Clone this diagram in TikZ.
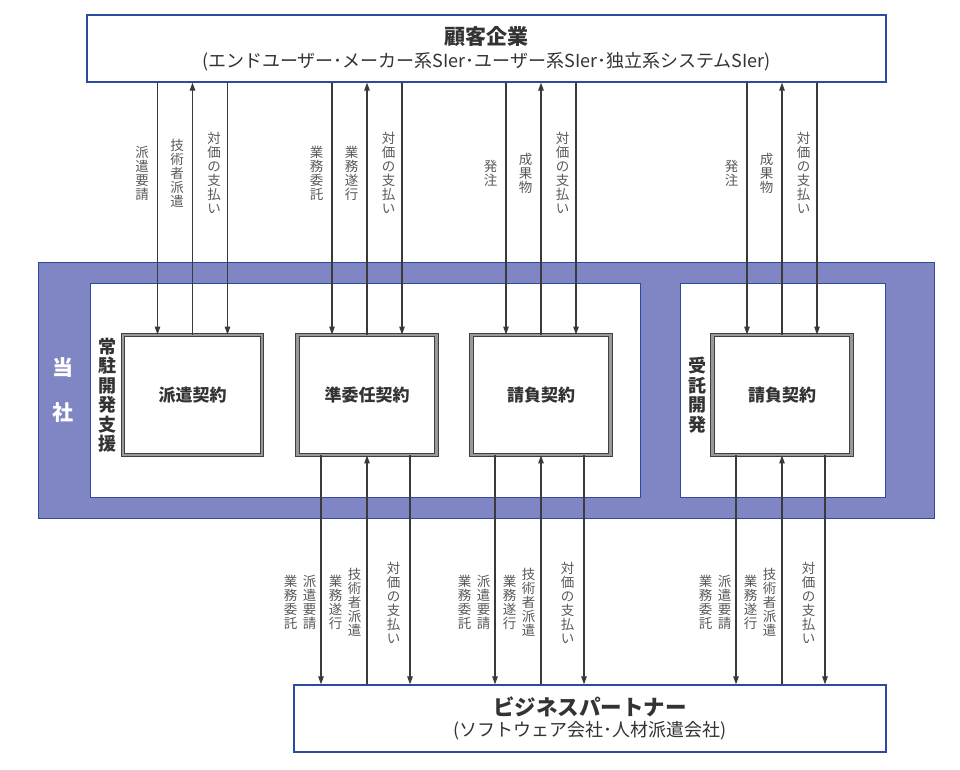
\documentclass[tikz,border=0pt]{standalone}
\usepackage{fontspec}
\setmainfont{Noto Sans CJK JP}
\usetikzlibrary{arrows.meta,positioning}
\definecolor{frameblue}{HTML}{2B4C9E}
\definecolor{framefill}{HTML}{7F86C3}
\definecolor{arrowgray}{HTML}{3A3A3A}
\definecolor{labelgray}{HTML}{5A5A5A}
\definecolor{textgray}{HTML}{333333}

\begin{document}
\begin{tikzpicture}[x=1pt, y=-1pt,
  party/.style={draw=frameblue, line width=1.3pt, fill=white, align=center, inner sep=0pt, text=textgray},
  panel/.style={draw=frameblue, line width=0.6pt, fill=white, inner sep=0pt, minimum height=214pt},
  contract/.style={draw=black!75, line width=0.9pt, double=black!40, double distance=2.4pt, fill=white, minimum width=139pt, minimum height=120pt, inner sep=0pt, text=textgray, font=\fontsize{17}{20}\selectfont\bfseries},
  arr/.style={-{Triangle[length=8pt,width=5.5pt]}, line width=1.1pt, arrowgray},
  lab/.style={align=center, inner sep=0pt, text=labelgray, font=\fontsize{13.5}{14}\selectfont},
  side/.style={align=center, inner sep=0pt, text=textgray, font=\fontsize{18}{19.5}\selectfont\bfseries}
]
\useasboundingbox (0,0) rectangle (960,769);

% Our company
\node[draw=frameblue, line width=1pt, fill=framefill, minimum width=896pt, minimum height=256pt, inner sep=0pt] (frame) at (486,390) {};
\node[align=center, inner sep=0pt, text=white, font=\fontsize{21}{24}\selectfont\bfseries] (tousha) at ([xshift=25pt]frame.west) {当\\[21pt]社};
\node[panel, minimum width=550pt] (resident) at (365,390) {};
\node[panel, minimum width=205pt] (entrusted) at (782.5,390) {};

% Contracts
\node[contract] (c1) at (192.5,395) {派遣契約};
\node[contract] (c2) at (367,395) {準委任契約};
\node[contract] (c3) at (541,395) {請負契約};
\node[contract] (c4) at (782,395) {請負契約};
\node[side, left=6pt of c1] (residentLabel) {常\\駐\\開\\発\\支\\援};
\node[side, left=5pt of c4] (entrustedLabel) {受\\託\\開\\発};

% Customer
\node[party, minimum width=799pt, minimum height=67pt] (customer) at (486.5,48.5) {{\fontsize{21}{25}\selectfont\bfseries 顧客企業}\\[5pt]{\fontsize{18}{20}\selectfont (エンドユーザー･メーカー系SIer･ユーザー系SIer･独立系システムSIer)}};

% Partner
\node[party, minimum width=592pt, minimum height=67pt] (partner) at (590,718.5) {{\fontsize{21.5}{25}\selectfont\bfseries ビジネスパートナー}\\[4pt]{\fontsize{18}{20}\selectfont (ソフトウェア会社･人材派遣会社)}};

% Customer <-> contracts
\draw[arr] ([xshift=-35pt]c1.north |- customer.south) -- node[lab, left=8pt, pos=.36] {派\\遣\\要\\請} ([xshift=-35pt]c1.north);
\draw[arr] (c1.north) -- node[lab, left=8pt, pos=.64] {技\\術\\者\\派\\遣} (c1.north |- customer.south);
\draw[arr] ([xshift=35pt]c1.north |- customer.south) -- node[lab, left=6pt, pos=.36] {対\\価\\の\\支\\払\\い} ([xshift=35pt]c1.north);

\draw[arr] ([xshift=-35pt]c2.north |- customer.south) -- node[lab, left=8pt, pos=.36] {業\\務\\委\\託} ([xshift=-35pt]c2.north);
\draw[arr] (c2.north) -- node[lab, left=8pt, pos=.64] {業\\務\\遂\\行} (c2.north |- customer.south);
\draw[arr] ([xshift=35pt]c2.north |- customer.south) -- node[lab, left=6pt, pos=.36] {対\\価\\の\\支\\払\\い} ([xshift=35pt]c2.north);

\draw[arr] ([xshift=-35pt]c3.north |- customer.south) -- node[lab, left=8pt, pos=.36] {発\\注} ([xshift=-35pt]c3.north);
\draw[arr] (c3.north) -- node[lab, left=8pt, pos=.64] {成\\果\\物} (c3.north |- customer.south);
\draw[arr] ([xshift=35pt]c3.north |- customer.south) -- node[lab, left=6pt, pos=.36] {対\\価\\の\\支\\払\\い} ([xshift=35pt]c3.north);

\draw[arr] ([xshift=-35pt]c4.north |- customer.south) -- node[lab, left=8pt, pos=.36] {発\\注} ([xshift=-35pt]c4.north);
\draw[arr] (c4.north) -- node[lab, left=8pt, pos=.64] {成\\果\\物} (c4.north |- customer.south);
\draw[arr] ([xshift=35pt]c4.north |- customer.south) -- node[lab, left=6pt, pos=.36] {対\\価\\の\\支\\払\\い} ([xshift=35pt]c4.north);

% Contracts <-> partner
\draw[arr] ([xshift=-46pt]c2.south) -- node[lab, left=4pt, pos=.643] {派\\遣\\要\\請} node[lab, left=23pt, pos=.643] {業\\務\\委\\託} ([xshift=-46pt]c2.south |- partner.north);
\draw[arr] (c2.south |- partner.north) -- node[lab, left=5pt, pos=.357] {技\\術\\者\\派\\遣} node[lab, left=24pt, pos=.357] {業\\務\\遂\\行} (c2.south);
\draw[arr] ([xshift=43pt]c2.south) -- node[lab, left=9pt, pos=.643] {対\\価\\の\\支\\払\\い} ([xshift=43pt]c2.south |- partner.north);

\draw[arr] ([xshift=-46pt]c3.south) -- node[lab, left=4pt, pos=.643] {派\\遣\\要\\請} node[lab, left=23pt, pos=.643] {業\\務\\委\\託} ([xshift=-46pt]c3.south |- partner.north);
\draw[arr] (c3.south |- partner.north) -- node[lab, left=5pt, pos=.357] {技\\術\\者\\派\\遣} node[lab, left=24pt, pos=.357] {業\\務\\遂\\行} (c3.south);
\draw[arr] ([xshift=43pt]c3.south) -- node[lab, left=9pt, pos=.643] {対\\価\\の\\支\\払\\い} ([xshift=43pt]c3.south |- partner.north);

\draw[arr] ([xshift=-46pt]c4.south) -- node[lab, left=4pt, pos=.643] {派\\遣\\要\\請} node[lab, left=23pt, pos=.643] {業\\務\\委\\託} ([xshift=-46pt]c4.south |- partner.north);
\draw[arr] (c4.south |- partner.north) -- node[lab, left=5pt, pos=.357] {技\\術\\者\\派\\遣} node[lab, left=24pt, pos=.357] {業\\務\\遂\\行} (c4.south);
\draw[arr] ([xshift=43pt]c4.south) -- node[lab, left=9pt, pos=.643] {対\\価\\の\\支\\払\\い} ([xshift=43pt]c4.south |- partner.north);

\end{tikzpicture}
\end{document}
